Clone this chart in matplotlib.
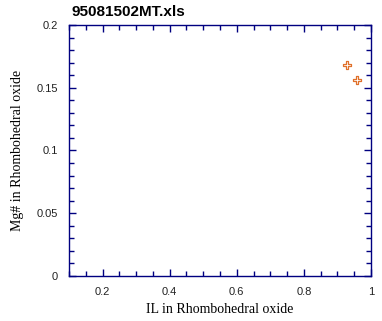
import matplotlib
matplotlib.use("Agg")
import matplotlib.pyplot as plt
from matplotlib.ticker import MultipleLocator, FuncFormatter

il = [0.928, 0.958]
mg = [0.168, 0.156]
title = "95081502MT.xls"
xlabel = "IL in Rhombohedral oxide"
ylabel = "Mg# in Rhombohedral oxide"

fig = plt.figure(figsize=(3.82, 3.21), dpi=100)
ax = fig.add_axes([69/382, 1-276/321, (371-69)/382, (276-25)/321])
ax.scatter(il, mg, marker='P', s=28, facecolors='white', edgecolors='#E0702A', linewidths=0.9, zorder=3)
ax.set_xlim(0.1, 1.0)
ax.set_ylim(0, 0.2)
navy = '#000080'
for s in ax.spines.values():
    s.set_color(navy)
    s.set_linewidth(1.0)
ax.xaxis.set_major_locator(MultipleLocator(0.2))
ax.xaxis.set_minor_locator(MultipleLocator(0.05))
ax.yaxis.set_major_locator(MultipleLocator(0.05))
ax.yaxis.set_minor_locator(MultipleLocator(0.01))

def fmt(v, p):
    s = ('%.2f' % v).rstrip('0').rstrip('.')
    return s if s else '0'
ax.xaxis.set_major_formatter(FuncFormatter(fmt))
ax.yaxis.set_major_formatter(FuncFormatter(fmt))
ax.tick_params(which='both', direction='in', top=True, right=True, color=navy,
               labelsize=8, labelcolor='#222222', pad=8)
ax.tick_params(which='major', length=5, width=1)
ax.tick_params(which='minor', length=3.5, width=1)
for lab in ax.get_xticklabels() + ax.get_yticklabels():
    lab.set_family('Liberation Sans')
ax.set_xlabel(xlabel, family='Liberation Serif', fontsize=10, labelpad=4)
ax.set_ylabel(ylabel, family='Liberation Serif', fontsize=10, labelpad=9)
fig.text(72/382, 1-12/321, title, family='Liberation Sans', fontweight='bold', fontsize=11, va='center', ha='left')
fig.savefig("out.png", dpi=100)
